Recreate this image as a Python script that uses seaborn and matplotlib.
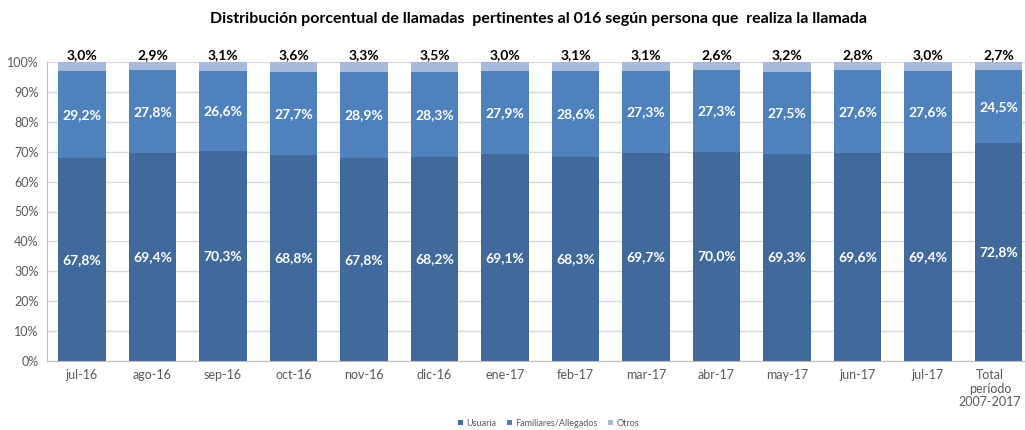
import matplotlib
matplotlib.use("Agg")
import matplotlib.pyplot as plt
import matplotlib.transforms as mtransforms
import seaborn as sns
import pandas as pd
import numpy as np

categories = ["jul-16", "ago-16", "sep-16", "oct-16", "nov-16", "dic-16", "ene-17",
              "feb-17", "mar-17", "abr-17", "may-17", "jun-17", "jul-17",
              "Total\nperíodo\n2007-2017"]
usuaria = [67.8, 69.4, 70.3, 68.8, 67.8, 68.2, 69.1, 68.3, 69.7, 70.0, 69.3, 69.6, 69.4, 72.8]
familiares = [29.2, 27.8, 26.6, 27.7, 28.9, 28.3, 27.9, 28.6, 27.3, 27.3, 27.5, 27.6, 27.6, 24.5]
otros = [3.0, 2.9, 3.1, 3.6, 3.3, 3.5, 3.0, 3.1, 3.1, 2.6, 3.2, 2.8, 3.0, 2.7]
series_names = ["Usuaria", "Familiares/Allegados", "Otros"]
colors = ["#41699B", "#4F81BD", "#A8BADB"]

sns.set_style("white")
plt.rcParams['font.family'] = ['Lato', 'DejaVu Sans']

df = pd.DataFrame({"cat": categories, "Usuaria": usuaria,
                   "Familiares/Allegados": familiares, "Otros": otros})

fig = plt.figure(figsize=(10.25, 4.3), dpi=100)
ax = fig.add_axes([46.75 / 1025, 69 / 430, 987 / 1025, 299 / 430])

bottoms = np.zeros(len(categories))
vals_list = [usuaria, familiares, otros]
for name, vals, col in zip(series_names, vals_list, colors):
    sns.barplot(data=df, x="cat", y=name, color=col, bottom=bottoms, width=0.667,
                ax=ax, label=name, saturation=1, edgecolor="none")
    bottoms = bottoms + np.array(vals)

handles, labels = ax.get_legend_handles_labels()
if ax.get_legend() is not None:
    ax.get_legend().remove()

ax.set_ylim(0, 100)
ax.set_xlim(-0.5, len(categories) - 0.5)
ax.set_yticks(np.arange(0, 101, 10))
ax.set_yticklabels([f"{v}%" for v in range(0, 101, 10)], color="#595959", fontsize=9)
ax.set_xticks(range(len(categories)))
ax.set_xticklabels(categories, color="#595959", fontsize=9, linespacing=1.15)
ax.tick_params(axis="x", length=0, pad=6)
ax.tick_params(axis="y", length=4, color="#BFBFBF", pad=2)
ax.set_xlabel("")
ax.set_ylabel("")
ax.yaxis.grid(True, color="#D9D9D9", linewidth=1)
ax.set_axisbelow(True)
for s in ["top", "right"]:
    ax.spines[s].set_visible(False)
ax.spines["left"].set_color("#BFBFBF")
ax.spines["bottom"].set_color("#BFBFBF")
ax.set_xticks(np.arange(-0.5, len(categories), 1), minor=True)
ax.tick_params(axis="x", which="minor", length=4, color="#BFBFBF")

last = ax.get_xticklabels()[-1]
last.set_transform(last.get_transform() + mtransforms.ScaledTranslation(-6 / 72, 0, fig.dpi_scale_trans))

def fmt(v):
    return f"{v:.1f}%".replace(".", ",")

for i in range(len(categories)):
    ax.text(i, usuaria[i] / 2, fmt(usuaria[i]), ha="center", va="center",
            color="white", fontsize=10, fontweight="bold")
    ax.text(i, usuaria[i] + familiares[i] / 2, fmt(familiares[i]), ha="center", va="center",
            color="white", fontsize=10, fontweight="bold")
    ax.text(i, 100.3, fmt(otros[i]), ha="center", va="bottom",
            color="black", fontsize=10, fontweight="bold")

fig.text(0.525, 0.955, "Distribución porcentual de llamadas  pertinentes al 016 según persona que  realiza la llamada",
         ha="center", va="center", fontsize=11.5, fontweight="bold", color="black")

fig.legend(handles, labels, loc="center", bbox_to_anchor=(0.535, 0.016), ncol=3,
           frameon=False, fontsize=6.5, handlelength=0.6, handleheight=0.6,
           handletextpad=0.3, columnspacing=1.2, labelcolor="#595959")

fig.savefig("out.png", dpi=100)
